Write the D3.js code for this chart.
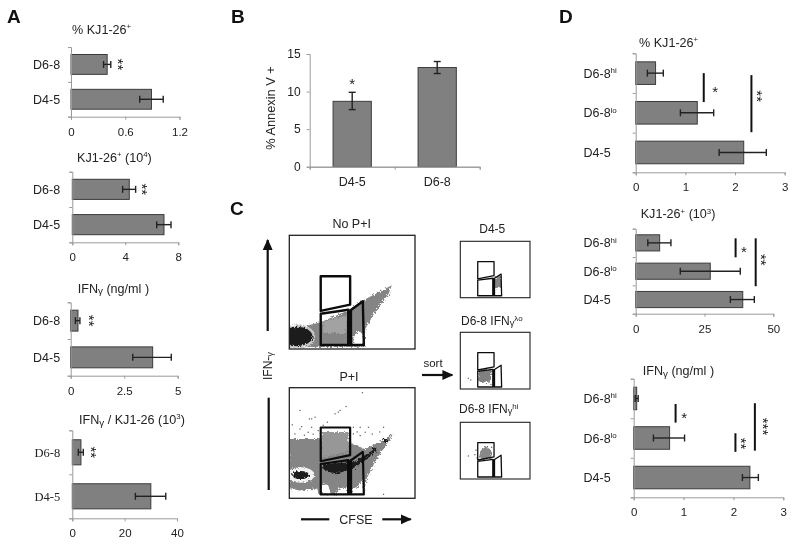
<!DOCTYPE html>
<html><head><meta charset="utf-8">
<script src="https://cdnjs.cloudflare.com/ajax/libs/d3/7.8.5/d3.min.js"></script>
<style>html,body{margin:0;padding:0;background:#fff}svg{display:block;filter:blur(0.4px)}text{font-family:"Liberation Sans",Arial,sans-serif;fill:#222}</style>
</head><body><svg id="c" width="800" height="544"></svg>
<script>
// ---------- data ----------
const catsA = ["D6-8", "D4-5"];
const catsD = ["D6-8|hi", "D6-8|lo", "D4-5"];
const catsB = ["D4-5", "D6-8"];

const a1Values = [0.40, 0.89], a1Low = [0.36, 0.76], a1High = [0.44, 1.02];
const a2Values = [4.3, 6.92],  a2Low = [3.8, 6.37],  a2High = [4.78, 7.45];
const a3Values = [0.34, 3.83], a3Low = [0.22, 2.9],  a3High = [0.43, 4.7];
const a4Values = [3.3, 30],    a4Low = [2.3, 24.1],  a4High = [4.2, 35.7];

const bValues = [8.7, 13.2], bLow = [7.6, 12.4], bHigh = [9.9, 14.0];

const d1Values = [0.40, 1.24, 2.175], d1Low = [0.235, 0.9, 1.68], d1High = [0.556, 1.57, 2.63];
const d2Values = [8.7, 27.1, 38.9],   d2Low = [4.4, 16.2, 34.4],  d2High = [12.8, 38, 43.1];
const d3Values = [0.06, 0.72, 2.33],  d3Low = [0.03, 0.395, 2.18], d3High = [0.09, 1.02, 2.5];

const a1Ticks = [0, 0.6, 1.2], a2Ticks = [0, 4, 8], a3Ticks = [0, 2.5, 5], a4Ticks = [0, 20, 40];
const bTicks = [0, 5, 10, 15];
const d1Ticks = [0, 1, 2, 3], d2Ticks = [0, 25, 50], d3Ticks = [0, 1, 2, 3];

// significance marks: [value, category position, label, rotated]
const a1Stars = [[0.564, 0.5, "**", 1]];
const a2Stars = [[5.56, 0.5, "**", 1]];
const a3Stars = [[1.04, 0.5, "**", 1]];
const a4Stars = [[8.8, 0.5, "**", 1]];
// significance lines: [value, category position from, category position to]
const d1Lines = [[1.37, 0.50, 1.23], [2.33, 0.55, 1.99]];
const d1Stars = [[1.60, 0.875, "*", 0], [2.52, 1.08, "**", 1]];
const d2Lines = [[36.3, 0.34, 1.01], [43.6, 0.34, 2.03]];
const d2Stars = [[39.3, 0.68, "*", 0], [47, 1.10, "**", 1]];
const d3Lines = [[0.84, 0.64, 1.11], [2.04, 1.38, 1.85], [2.43, 0.62, 1.82]];
const d3Stars = [[1.01, 0.89, "*", 0], [2.22, 1.64, "**", 1], [2.68, 1.21, "***", 1]];

// flow cytometry, in percent of the plot's CFSE and IFN-gamma ranges
const gateHigh  = [[25,64],[48.4,64],[48.4,39],[25,33.5]];
const gateLeft  = [[25,31],[47,34.5],[47,3.5],[25,3.5]];
const gateRight = [[48,33.5],[58.5,42],[59.3,3.5],[48,3.5]];
const gateBand  = [[46,34.5],[50,34],[50,3.5],[46,3.5]];

const noPiCloud = [[0,19],[12,20],[25,23.5],[47,34],[58.5,42.6],[71,50],[81.6,56],[79,48.5],[68,32],[60.4,17.6],[60,2],[0,1.5]];
const noPiLight = [[27,14],[45,14],[47,30],[40,28],[27,24]];
const noPiHole  = [[51,3],[59,3],[59,13],[55,16],[51,10]];
const noPiHalo  = [6.5, 11, 14, 10.5];
const noPiBlob  = [6.5, 11, 12, 8.5];

const piCloud  = [[0,53.6],[23,53.6],[48,50.6],[60,44.5],[74,52],[83,58.8],[76.5,47.6],[68.6,34],[62,18.8],[59,4.5],[30,3],[0,3.6]];
const piLight  = [[26,60],[47,60],[47,42],[26,37]];
const piWhiteA = [[0,3],[24,3],[22,9],[8,7],[0,9]];
const piWhiteB = [[26,3.5],[33,3.5],[31,12],[26,13]];
const piWhiteC = [[37,3.5],[46,3.5],[46,10],[40,9]];
const piWhiteD = [[50,3.5],[59,3.5],[59,18],[54,10],[50,9]];
const piRibbon = [[27,31],[47,32.4],[51,32.4],[65.7,43],[69.7,46],[69.7,44.5],[61.7,35.4],[49.7,26.4],[36.4,21.8],[27,26.3]];
const piHalo   = [9, 21, 11, 7];
const piBlob   = [9, 21, 6.8, 3.6];
const piSpots  = [[76.5, 52, 1.6, 2], [68, 44, 1.4, 2]];
const piEvents = [[58.2,95.5],[45.2,83],[40.4,79.4],[39,77.9],[36.4,76.4],[8.5,79.4],[20.5,73.3],[17.8,71.8],[16,71.8],[30.3,68.8],[2.4,66.4],[9.8,64.8],[8.5,62.7],[17.8,64.2],[51,64.2],[56.4,64.2],[63,64.2],[75,64.2],[60.4,59.7],[56.4,56.7],[75,3.6],[51,58.2],[23,61.2],[15,59.7],[4.5,58.2],[12,57],[19,58],[27,66],[54,60],[66,58],[72,60]];

const sortD45Cloud = [[49.3,34.7],[58.9,42],[58.4,19.5],[50,16.5]];
const sortLoCloud  = [[26,34],[45,36],[44,16],[36,10],[26,14]];
const sortLoEvents = [[11.5,18.8],[15,15.9],[44,8],[41,12]];
const sortHiCloud  = [[29,50],[36,57],[44,52],[45,40],[36,33],[27,38]];
const sortHiEvents = [[11.5,40.6],[22.5,51],[39,57],[24,37],[28,33],[45,56],[21,43],[44,37]];

// ---------- drawing ----------
const svg = d3.select("#c");
const defs = svg.append("defs");
const rough = defs.append("filter").attr("id","rough").attr("x","-5%").attr("y","-5%").attr("width","110%").attr("height","110%");
rough.append("feTurbulence").attr("type","fractalNoise").attr("baseFrequency",0.55).attr("numOctaves",2).attr("seed",4).attr("result","n");
rough.append("feDisplacementMap").attr("in","SourceGraphic").attr("in2","n").attr("scale",5);
const head = defs.append("marker").attr("id","head").attr("viewBox","0 0 10 10").attr("refX",9).attr("refY",5)
  .attr("markerUnits","userSpaceOnUse").attr("markerWidth",11).attr("markerHeight",11).attr("orient","auto");
head.append("path").attr("d","M0,0.5L10,5L0,9.5Z").attr("fill","#111");

function rich(sel, parts, base) {
  parts.forEach(p => {
    const s = sel.append("tspan").text(p[0]);
    if (p[1] === "sup") s.attr("font-size", base * 0.62).attr("dy", -base * 0.36);
    else if (p[1] === "g") s.attr("font-size", base * 0.78).attr("dy", base * 0.12);
    else if (p[1] === "gsup") s.attr("font-size", base * 0.66).attr("dy", -base * 0.42);
    else s.attr("font-size", base).attr("dy", p[2] || 0);
  });
}
function title(x, y, parts, size) {
  rich(svg.append("text").attr("x", x).attr("y", y), parts, size || 12.6);
}
function catLabel(g, x, y, label, serif) {
  const [main, sup] = label.split("|");
  const t = g.append("text").attr("x", x).attr("y", y + 4.5);
  if (serif) t.style("font-family", '"Liberation Serif",serif');
  t.append("tspan").attr("font-size", 12.5).text(main);
  if (sup) t.append("tspan").attr("font-size", 8).attr("dy", -4.5).text(sup);
}
function styleAxis(a) {
  a.select(".domain").attr("stroke", "#9a9a9a").attr("stroke-width", 1);
  a.selectAll(".tick line").attr("stroke", "#9a9a9a");
  a.selectAll(".tick text").attr("font-size", 11.5).style("font-family", '"Liberation Sans",Arial,sans-serif').attr("fill", "#222");
}
function hChart(o) {
  const g = svg.append("g");
  const x = d3.scaleLinear().domain([0, o.ticks[o.ticks.length - 1]]).range([o.left, o.right]);
  const y = d3.scaleBand().domain(o.cats).range([o.top, o.base]).paddingInner(0.43).paddingOuter(0.215);
  const pos = d3.scaleLinear().domain([0, o.cats.length]).range([o.top, o.base]);
  const rows = o.cats.map((c, i) => ({c, v: o.values[i], lo: o.low[i], hi: o.high[i]}));
  g.selectAll("rect.bar").data(rows).join("rect").attr("class", "bar")
    .attr("x", x(0)).attr("y", d => y(d.c)).attr("width", d => x(d.v) - x(0)).attr("height", y.bandwidth())
    .attr("fill", "#808080").attr("stroke", "#3c3c3c").attr("stroke-width", 1);
  const ax = g.append("g").attr("transform", `translate(0,${o.base})`)
    .call(d3.axisBottom(x).tickValues(o.ticks).tickSize(3).tickPadding(8).tickFormat(d => String(d)));
  styleAxis(ax);
  const ay = g.append("g").attr("transform", `translate(${o.left},0)`)
    .call(d3.axisLeft(pos).tickValues(d3.range(o.cats.length + 1)).tickSize(3).tickFormat(""));
  styleAxis(ay);
  const eb = g.selectAll("g.err").data(rows).join("g").attr("class", "err")
    .attr("transform", d => `translate(0,${y(d.c) + y.bandwidth() / 2})`).attr("stroke", "#222").attr("stroke-width", 1.4);
  eb.append("line").attr("x1", d => x(d.lo)).attr("x2", d => x(d.hi));
  eb.append("line").attr("x1", d => x(d.lo)).attr("x2", d => x(d.lo)).attr("y1", -3.5).attr("y2", 3.5);
  eb.append("line").attr("x1", d => x(d.hi)).attr("x2", d => x(d.hi)).attr("y1", -3.5).attr("y2", 3.5);
  o.cats.forEach(c => catLabel(g, o.labelX, y(c) + y.bandwidth() / 2, c, o.serif));
  (o.lines || []).forEach(l => g.append("line").attr("x1", x(l[0])).attr("x2", x(l[0])).attr("y1", pos(l[1])).attr("y2", pos(l[2]))
    .attr("stroke", "#111").attr("stroke-width", 2));
  (o.stars || []).forEach(s => {
    g.append("text").attr("text-anchor", "middle").attr("font-size", 15).attr("y", 15 * 0.59)
      .attr("transform", `translate(${x(s[0])},${pos(s[1])}) rotate(${s[3] ? 90 : 0})`).text(s[2]);
  });
}

hChart({cats:catsA,values:a1Values,low:a1Low,high:a1High,ticks:a1Ticks,stars:a1Stars,left:71,right:179.5,top:47,base:116.7,labelX:33});
hChart({cats:catsA,values:a2Values,low:a2Low,high:a2High,ticks:a2Ticks,stars:a2Stars,left:72.3,right:178.3,top:171.7,base:242.3,labelX:33});
hChart({cats:catsA,values:a3Values,low:a3Low,high:a3High,ticks:a3Ticks,stars:a3Stars,left:70.7,right:177.7,top:302.3,base:375.7,labelX:33});
hChart({cats:catsA,values:a4Values,low:a4Low,high:a4High,ticks:a4Ticks,stars:a4Stars,left:72.3,right:177,top:430.3,base:518.3,labelX:34.5,serif:true});
hChart({cats:catsD,values:d1Values,low:d1Low,high:d1High,ticks:d1Ticks,lines:d1Lines,stars:d1Stars,left:635.7,right:784.7,top:53.3,base:172.3,labelX:583.5});
hChart({cats:catsD,values:d2Values,low:d2Low,high:d2High,ticks:d2Ticks,lines:d2Lines,stars:d2Stars,left:635.7,right:773.3,top:228.7,base:313.7,labelX:583.5});
hChart({cats:catsD,values:d3Values,low:d3Low,high:d3High,ticks:d3Ticks,lines:d3Lines,stars:d3Stars,left:633.7,right:783.3,top:378.7,base:497.3,labelX:583.5});

// panel B
(function () {
  const g = svg.append("g");
  const x = d3.scaleBand().domain(catsB).range([309.7, 479.7]).paddingInner(0.55).paddingOuter(0.275);
  const y = d3.scaleLinear().domain([0, 15]).range([166.7, 54]);
  const rows = catsB.map((c, i) => ({c, v: bValues[i], lo: bLow[i], hi: bHigh[i]}));
  g.selectAll("rect").data(rows).join("rect").attr("x", d => x(d.c)).attr("y", d => y(d.v))
    .attr("width", x.bandwidth()).attr("height", d => y(0) - y(d.v))
    .attr("fill", "#808080").attr("stroke", "#3c3c3c").attr("stroke-width", 1);
  const ax = g.append("g").attr("transform", "translate(0,166.7)")
    .call(d3.axisBottom(x).tickSize(0).tickPadding(10));
  styleAxis(ax);
  ax.selectAll(".tick text").attr("font-size", 12.5);
  const bp = d3.scaleLinear().domain([0, catsB.length]).range([309.7, 479.7]);
  g.append("g").attr("transform", "translate(0,166.7)")
    .call(d3.axisBottom(bp).tickValues([0, 1, 2]).tickSize(3).tickFormat("")).call(styleAxis);
  const ay = g.append("g").attr("transform", "translate(309.7,0)")
    .call(d3.axisLeft(y).tickValues(bTicks).tickSize(3).tickPadding(6));
  styleAxis(ay);
  ay.selectAll(".tick text").attr("font-size", 12);
  const eb = g.selectAll("g.err").data(rows).join("g").attr("class", "err")
    .attr("transform", d => `translate(${x(d.c) + x.bandwidth() / 2},0)`).attr("stroke", "#222").attr("stroke-width", 1.4);
  eb.append("line").attr("y1", d => y(d.lo)).attr("y2", d => y(d.hi));
  eb.append("line").attr("x1", -3.5).attr("x2", 3.5).attr("y1", d => y(d.lo)).attr("y2", d => y(d.lo));
  eb.append("line").attr("x1", -3.5).attr("x2", 3.5).attr("y1", d => y(d.hi)).attr("y2", d => y(d.hi));
  g.append("text").attr("text-anchor", "middle").attr("font-size", 15).attr("x", x("D4-5") + x.bandwidth() / 2).attr("y", y(10.3)).text("*");
  g.append("text").attr("text-anchor", "middle").attr("font-size", 12.8).attr("transform", "translate(275,108) rotate(-90)").text("% Annexin V +");
})();

// panel C
function flow(frame, draw, strokes) {
  const g = svg.append("g");
  const x = d3.scaleLinear().domain([0, 100]).range([frame.x0, frame.x1]);
  const y = d3.scaleLinear().domain([0, 100]).range([frame.y1, frame.y0]);
  const line = d3.line().x(d => x(d[0])).y(d => y(d[1])).curve(d3.curveLinearClosed);
  const id = "clip" + Math.round(frame.y0);
  defs.append("clipPath").attr("id", id).append("rect").attr("x", frame.x0).attr("y", frame.y0)
    .attr("width", frame.x1 - frame.x0).attr("height", frame.y1 - frame.y0);
  const clip = g.append("g").attr("clip-path", `url(#${id})`);
  const cloud = clip.append("g").attr("filter", "url(#rough)");
  const api = {
    poly: (p, fill) => cloud.append("path").attr("d", line(p)).attr("fill", fill),
    blob: (b, fill) => cloud.append("ellipse").attr("cx", x(b[0])).attr("cy", y(b[1]))
      .attr("rx", x(b[2]) - x(0)).attr("ry", y(0) - y(b[3])).attr("fill", fill),
    events: (ev, fill) => clip.selectAll(null).data(ev).join("rect").attr("x", d => x(d[0]) - 0.6).attr("y", d => y(d[1]) - 0.6)
      .attr("width", 1.2).attr("height", 1.2).attr("fill", fill)
  };
  draw(api);
  const gg = g.append("g").attr("fill", "none").attr("stroke", "#0c0c0c").attr("stroke-linejoin", "round");
  [gateHigh, gateLeft, gateRight].forEach(p => gg.append("path").attr("d", line(p)).attr("stroke-width", strokes));
  g.append("path").attr("d", line(gateBand)).attr("fill", "#0c0c0c");
  g.append("rect").attr("x", frame.x0).attr("y", frame.y0).attr("width", frame.x1 - frame.x0).attr("height", frame.y1 - frame.y0)
    .attr("fill", "none").attr("stroke", "#222").attr("stroke-width", frame.w);
}
flow({x0:289.3,x1:415,y0:235.3,y1:349,w:1.3}, a => {
  a.poly(noPiCloud, "#858585"); a.poly(noPiLight, "#a2a2a2"); a.poly(noPiHole, "#fff");
  a.blob(noPiHalo, "#c8c8c8"); a.blob(noPiBlob, "#1c1c1c");
}, 2.4);
flow({x0:289.3,x1:415,y0:387.7,y1:498.3,w:1.3}, a => {
  a.poly(piCloud, "#858585"); a.poly(piLight, "#979797");
  [piWhiteA, piWhiteB, piWhiteC, piWhiteD].forEach(p => a.poly(p, "#fff"));
  a.poly(piRibbon, "#1c1c1c"); a.blob(piHalo, "#f2f2f2"); a.blob(piBlob, "#1c1c1c");
  piSpots.forEach(b => a.blob(b, "#1c1c1c"));
  a.events(piEvents, "#5a5a5a");
}, 2.2);
flow({x0:460.3,x1:530,y0:241.3,y1:297.7,w:1.1}, a => { a.poly(sortD45Cloud, "#858585"); }, 1.3);
flow({x0:460.3,x1:530,y0:332.3,y1:389,w:1.1}, a => { a.poly(sortLoCloud, "#808080"); a.events(sortLoEvents, "#666"); }, 1.3);
flow({x0:460.3,x1:530,y0:422.3,y1:479,w:1.1}, a => { a.poly(sortHiCloud, "#888"); a.events(sortHiEvents, "#555"); }, 1.3);

function arrow(x1, y1, x2, y2, w, withHead) {
  const l = svg.append("line").attr("x1", x1).attr("y1", y1).attr("x2", x2).attr("y2", y2).attr("stroke", "#111").attr("stroke-width", w);
  if (withHead) l.attr("marker-end", "url(#head)");
}
arrow(267.7, 331, 267.7, 240, 2.2, true);
arrow(268.7, 490, 268.7, 397.7, 2.2, false);
arrow(301, 519.3, 329.3, 519.3, 2.2, false);
arrow(382.3, 519.3, 410.7, 519.3, 2.2, true);
arrow(422, 375, 452.3, 375, 2.2, true);

// titles and letters
[["A",7,23],["B",231,23],["C",230,215],["D",559,23]].forEach(l =>
  svg.append("text").attr("x", l[1]).attr("y", l[2]).attr("font-size", 19).attr("font-weight", "bold").style("fill","#111").text(l[0]));

title(72, 34, [["% KJ1-26"],["+","sup"]]);
title(77, 161.7, [["KJ1-26"],["+","sup"],[" (10",0,4.5],["4","sup"],[")",0,4.5]]);
title(77.7, 292.7, [["IFN"],["γ","g"],[" (ng/ml )",0,-1.5]]);
title(79, 424, [["IFN"],["γ","g"],[" / KJ1-26 (10",0,-1.5],["3","sup"],[")",0,4.5]]);
title(639, 46.7, [["% KJ1-26"],["+","sup"]]);
title(640.7, 218.3, [["KJ1-26"],["+","sup"],[" (10",0,4.5],["3","sup"],[")",0,4.5]]);
title(642.7, 375, [["IFN"],["γ","g"],[" (ng/ml )",0,-1.5]]);

function center(x, y, s, size) { svg.append("text").attr("x", x).attr("y", y).attr("text-anchor", "middle").attr("font-size", size || 12).text(s); }
center(351.7, 227.7, "No P+I", 12.5);
center(349, 381, "P+I", 12.5);
center(356, 524, "CFSE", 12.5);
center(433, 366.7, "sort", 11.5);
center(492.3, 232.7, "D4-5", 12);
title(461, 325, [["D6-8 IFN"],["γ","g"],["λo","gsup"]], 12);
title(459, 412.7, [["D6-8 IFN"],["γ","g"],["hi","gsup"]], 12);
rich(svg.append("text").attr("transform", "translate(272,380) rotate(-90)"), [["IFN-"],["γ","g"]], 12);
</script></body></html>
